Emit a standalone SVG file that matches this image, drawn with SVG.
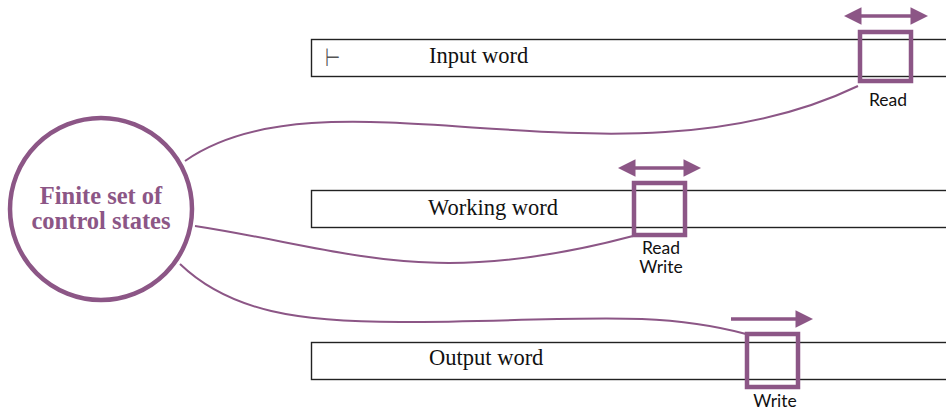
<svg xmlns="http://www.w3.org/2000/svg" width="946" height="410" viewBox="0 0 946 410">
<defs>
<style>
.tape{fill:#fff;stroke:#222;stroke-width:1.4}
.head{fill:none;stroke:#8c5686;stroke-width:4.5}
.mv{fill:none;stroke:#8c5686;stroke-width:3.5}
.conn{fill:none;stroke:#8c5686;stroke-width:2}
.tt{font-family:"Liberation Serif",serif;font-size:22.5px;fill:#111}
.lab{font-family:Lato,"Liberation Sans",sans-serif;font-size:17.5px;fill:#111;text-anchor:middle}
.st{font-family:"Liberation Serif",serif;font-weight:bold;font-size:24.5px;fill:#8c5686;text-anchor:middle}
</style>
<marker id="ah" viewBox="0 0 10 10" refX="2" refY="5" markerWidth="6" markerHeight="5" markerUnits="strokeWidth" orient="auto-start-reverse">
<path d="M0,0 L10,5 L0,10 z" fill="#8c5686"/>
</marker>
</defs>
<g id="connectors">
<path class="conn" d="M185,161 C330,60 620,200 858,86"/>
<path class="conn" d="M195,226 C350,250 430,290 633,236"/>
<path class="conn" d="M180,264 C230,312 300,322 400,322 C560,322 650,308 746,334"/>
</g>
<g id="state">
<circle cx="101" cy="209" r="91" fill="#fff" stroke="#8c5686" stroke-width="4.5"/>
<text class="st" x="101" y="204">Finite set of</text>
<text class="st" x="101" y="229">control states</text>
</g>
<g id="input">
<rect class="tape" x="311.5" y="39.5" width="650" height="37"/>
<text x="0" y="0" font-family="DejaVu Sans,sans-serif" font-size="25" fill="#555" transform="translate(325,66) scale(0.7,1)">⊢</text>
<text class="tt" x="429" y="63">Input word</text>
<rect class="head" x="860" y="32" width="51" height="49"/>
<line class="mv" x1="858" y1="16" x2="914" y2="16" marker-start="url(#ah)" marker-end="url(#ah)"/>
<text class="lab" x="888" y="106">Read</text>
</g>
<g id="working">
<rect class="tape" x="311.5" y="190.5" width="650" height="37"/>
<text class="tt" x="428" y="215">Working word</text>
<rect class="head" x="634" y="183" width="51" height="52"/>
<line class="mv" x1="632" y1="168" x2="687" y2="168" marker-start="url(#ah)" marker-end="url(#ah)"/>
<text class="lab" x="661" y="254">Read</text>
<text class="lab" x="661" y="273">Write</text>
</g>
<g id="output">
<rect class="tape" x="311.5" y="342.5" width="650" height="37"/>
<text class="tt" x="429" y="365">Output word</text>
<rect class="head" x="747" y="334" width="51" height="53"/>
<line class="mv" x1="731" y1="319" x2="799" y2="319" marker-end="url(#ah)"/>
<text class="lab" x="775" y="407">Write</text>
</g>
</svg>
